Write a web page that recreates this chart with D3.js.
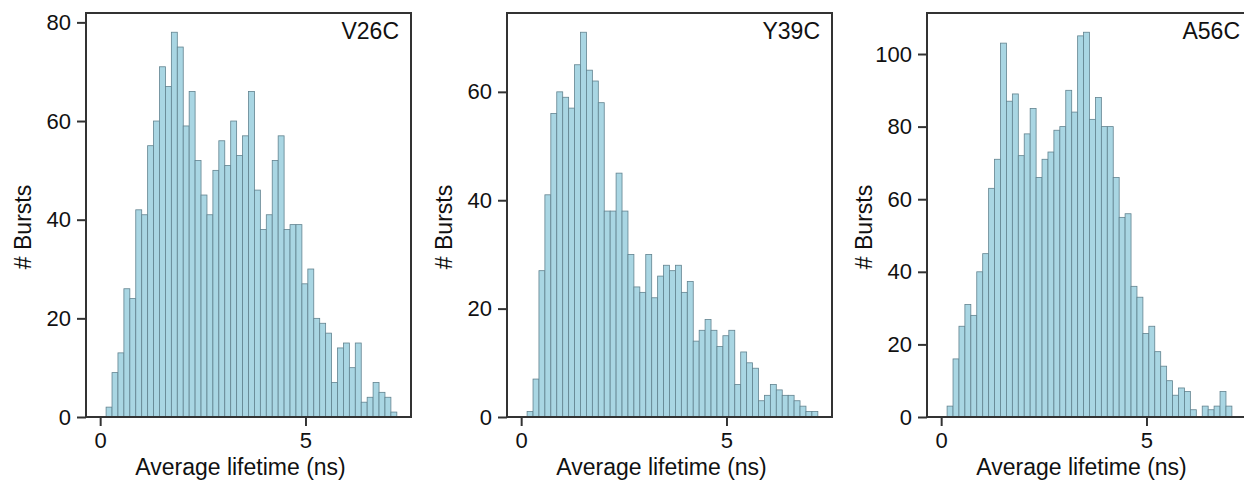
<!DOCTYPE html>
<html>
<head>
<meta charset="utf-8">
<title>Average lifetime histograms</title>
<script src="https://cdn.jsdelivr.net/npm/d3@7"></script>
<style>
  body { margin: 0; background: #fff; }
  svg text { font-family: "Liberation Sans", Arial, sans-serif; fill: #111; }
</style>
</head>
<body>
<svg id="chart" width="1244" height="483"></svg>
<script>
// data: counts per bin (bins start at 0 ns, width 0.1445 ns)
var binStart = 0, binWidth = 0.1445;
var names = ["V26C", "Y39C", "A56C"];
var countsV26C = [0, 2, 9, 13, 26, 24, 42, 41, 55, 60, 71, 67, 78, 75, 59, 66, 52, 45, 41, 50, 56, 51, 60, 53, 57, 66, 46, 38, 41, 52, 57, 38, 39, 39, 27, 30, 20, 19, 17, 7, 14, 15, 10, 15, 3, 4, 7, 5, 4, 1];
var countsY39C = [0, 1, 7, 27, 41, 56, 60, 59, 57, 65, 71, 64, 62, 58, 38, 38, 45, 38, 30, 24, 23, 30, 22, 26, 28, 27, 28, 23, 25, 14, 16, 18, 16, 13, 15, 16, 6, 12, 10, 9, 3, 4, 6, 5, 4, 4, 3, 2, 1, 1];
var countsA56C = [0, 3, 16, 25, 31, 28, 40, 45, 63, 71, 103, 87, 89, 72, 78, 85, 66, 71, 73, 79, 80, 90, 84, 105, 106, 82, 88, 80, 80, 66, 55, 56, 36, 33, 23, 25, 18, 14, 10, 6, 8, 7, 2, 0, 3, 2, 3, 7, 3, 0];
var xTicks = [0, 5];
var yTicksV26C = [0, 20, 40, 60, 80];
var yTicksY39C = [0, 20, 40, 60];
var yTicksA56C = [0, 20, 40, 60, 80, 100];

var allCounts = [countsV26C, countsY39C, countsA56C];
var allYTicks = [yTicksV26C, yTicksY39C, yTicksA56C];

// layout
var panelLeft = [86, 507, 927],
    plotTop = 13, plotW = 325, plotH = 404;

var svg = d3.select("#chart");

names.forEach(function(name, p) {
  var counts = allCounts[p];
  var x = d3.scaleLinear().domain([-0.345, 7.57]).range([0, plotW]);
  var y = d3.scaleLinear().domain([0, d3.max(counts) * 1.05]).range([plotH, 0]);

  var g = svg.append("g").attr("transform", "translate(" + panelLeft[p] + "," + plotTop + ")");

  // bars (empty bins drawn with zero height)
  g.selectAll("rect.bar")
    .data(counts)
    .enter().append("rect")
    .attr("class", "bar")
    .attr("x", function(d, i) { return x(binStart + i * binWidth); })
    .attr("width", function(d, i) { return x(binStart + (i + 1) * binWidth) - x(binStart + i * binWidth); })
    .attr("y", function(d) { return y(d); })
    .attr("height", function(d) { return plotH - y(d); })
    .style("fill", "#a9d6e3")
    .style("stroke", function(d) { return d > 0 ? "#62838f" : "none"; })
    .style("stroke-width", 0.8);

  // axes
  var xAxis = d3.axisBottom(x).tickValues(xTicks).tickSize(9).tickPadding(6).tickFormat(d3.format("d"));
  var yAxis = d3.axisLeft(y).tickValues(allYTicks[p]).tickSize(9).tickPadding(6).tickFormat(d3.format("d"));

  var gx = g.append("g").attr("transform", "translate(0," + plotH + ")").call(xAxis);
  var gy = g.append("g").call(yAxis);
  [gx, gy].forEach(function(a) {
    a.select(".domain").remove();
    a.selectAll(".tick line").attr("stroke", "#333").attr("stroke-width", 2);
    a.selectAll(".tick text").style("font-size", "22px").attr("fill", "#111");
  });

  // frame
  g.append("rect")
    .attr("width", plotW).attr("height", plotH)
    .style("fill", "none").style("stroke", "#333").style("stroke-width", 2);

  // panel name
  g.append("text")
    .attr("x", plotW - 12).attr("y", 26)
    .attr("text-anchor", "end")
    .style("font-size", "23px")
    .text(name);

  // axis labels
  g.append("text")
    .attr("x", plotW / 2 - 8).attr("y", plotH + 58)
    .attr("text-anchor", "middle")
    .style("font-size", "23px")
    .text("Average lifetime (ns)");

  g.append("text")
    .attr("transform", "translate(-55," + (plotH / 2 + 12) + ") rotate(-90)")
    .attr("text-anchor", "middle")
    .style("font-size", "23px")
    .text("# Bursts");
});
</script>
</body>
</html>
